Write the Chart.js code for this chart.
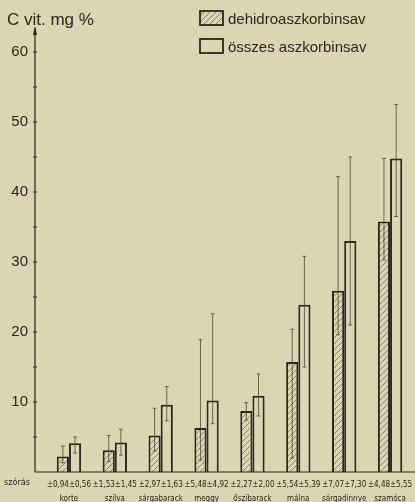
<!DOCTYPE html>
<html lang="hu">
<head>
<meta charset="UTF-8">
<title>C vitamin tartalom</title>
<script src="https://cdn.jsdelivr.net/npm/chart.js"></script>
<style>
  html, body { margin: 0; padding: 0; background: #dcd5b2; }
  canvas { display: block; }
</style>
</head>
<body>
<canvas id="chart" width="415" height="502"></canvas>
<script>
// values (mg %)
const fruits = ['korte', 'szilva', 'sárgabarack', 'meggy', 'őszibarack', 'málna', 'sárgadinnye', 'szamóca'];
const szorasDehidro = ['0,94', '1,53', '2,97', '5,48', '2,27', '5,54', '7,07', '4,48'];
const szorasOsszes = ['0,56', '1,45', '1,63', '4,92', '2,00', '5,39', '7,30', '5,55'];
const dehidro = [2.2, 3.1, 5.2, 6.3, 8.7, 15.7, 25.9, 35.8];
const dehidroHi = [3.7, 5.2, 9.1, 18.9, 9.9, 20.4, 42.2, 44.8];
const dehidroLo = [1.3, 1.5, 3.0, 1.7, 7.4, 2.0, 19.6, 30.3];
const osszes = [4.1, 4.2, 9.6, 10.2, 10.9, 23.9, 33.0, 44.8];
const osszesHi = [5.0, 6.1, 12.2, 22.6, 14.0, 30.8, 45.0, 52.5];
const osszesLo = [2.7, 2.4, 7.3, 6.9, 8.0, 15.0, 21.0, 36.5];

const paper = '#dcd5b2';
const ink = '#2a2620';
const narrow = '"DejaVu Sans Condensed", "Liberation Sans", sans-serif';

const ctx = document.getElementById('chart').getContext('2d');

function makeHatch() {
  const t = document.createElement('canvas');
  t.width = 6; t.height = 6;
  const g = t.getContext('2d');
  g.fillStyle = paper;
  g.fillRect(0, 0, 6, 6);
  g.strokeStyle = '#8a846c';
  g.lineWidth = 1;
  g.beginPath();
  g.moveTo(0, 6); g.lineTo(6, 0);
  g.moveTo(-1, 1); g.lineTo(1, -1);
  g.moveTo(5, 7); g.lineTo(7, 5);
  g.stroke();
  return ctx.createPattern(t, 'repeat');
}
const hatch = makeHatch();

const errors = [
  { lo: dehidroLo, hi: dehidroHi },
  { lo: osszesLo, hi: osszesHi }
];

// axis lines with arrow, like the hand drawn original
const axisPlugin = {
  id: 'axisPlugin',
  afterDatasetsDraw(chart) {
    const c = chart.ctx;
    const y = chart.scales.y;
    const x0 = 35;
    const y0 = y.getPixelForValue(0);
    c.save();
    c.strokeStyle = ink;
    c.lineWidth = 1.2;
    c.beginPath();
    c.moveTo(x0, y0); c.lineTo(x0, 28);
    c.moveTo(x0, y0); c.lineTo(415, y0);
    for (let v = 5; v <= 60; v += 5) {
      const py = y.getPixelForValue(v);
      c.moveTo(x0 - 2, py); c.lineTo(x0 + 2, py);
    }
    c.stroke();
    c.fillStyle = ink;
    c.beginPath();
    c.moveTo(x0, 26); c.lineTo(x0 - 2, 35); c.lineTo(x0 + 2, 35);
    c.closePath(); c.fill();

    // error whiskers
    c.strokeStyle = '#4a463c';
    c.lineWidth = 0.8;
    errors.forEach((e, i) => {
      chart.getDatasetMeta(i).data.forEach((bar, j) => {
        const top = y.getPixelForValue(e.hi[j]);
        const bot = y.getPixelForValue(e.lo[j]);
        const bx = bar.x;
        c.beginPath();
        c.moveTo(bx, top); c.lineTo(bx, bot);
        c.moveTo(bx - 2, top); c.lineTo(bx + 2, top);
        c.moveTo(bx - 2, bot); c.lineTo(bx + 2, bot);
        c.stroke();
      });
    });
    c.restore();
  },
  afterDraw(chart) {
    const c = chart.ctx;
    c.save();
    c.fillStyle = ink;
    c.textBaseline = 'alphabetic';
    c.font = '17px "Liberation Sans", sans-serif';
    c.fillText('C vit. mg %', 7, 25);

    // legend
    c.font = '15px "Liberation Sans", sans-serif';
    chart.data.datasets.forEach((ds, i) => {
      const by = 11 + i * 28;
      c.fillStyle = ds.backgroundColor;
      c.fillRect(200, by, 23, 14);
      c.strokeStyle = ink;
      c.lineWidth = 1.8;
      c.strokeRect(200, by, 23, 14);
      c.fillStyle = ink;
      c.fillText(ds.label, 228, by + 13);
    });

    c.font = '9px ' + narrow;
    c.textBaseline = 'middle';
    c.fillText('szórás', 4, chart.chartArea.bottom + 11);
    c.restore();
  }
};

new Chart(ctx, {
  type: 'bar',
  data: {
    labels: fruits.map((f, i) => ['±' + szorasDehidro[i] + '±' + szorasOsszes[i], f]),
    datasets: [
      {
        label: 'dehidroaszkorbinsav',
        data: dehidro,
        backgroundColor: hatch,
        borderColor: ink,
        borderWidth: 2
      },
      {
        label: 'összes aszkorbinsav',
        data: osszes,
        backgroundColor: paper,
        borderColor: ink,
        borderWidth: 2
      }
    ]
  },
  options: {
    responsive: false,
    animation: false,
    layout: { padding: { top: 31, right: 2, left: 0, bottom: 0 } },
    categoryPercentage: 0.53,
    barPercentage: 1,
    plugins: {
      legend: { display: false },
      tooltip: { enabled: false }
    },
    scales: {
      x: {
        grid: { display: false, drawTicks: false },
        border: { display: false },
        ticks: {
          color: ink,
          padding: 6,
          maxRotation: 0,
          autoSkip: false,
          font: { family: narrow, size: 8, lineHeight: 1.75 }
        },
        afterFit(scale) {
          scale.height = 30;
          scale.paddingLeft = 0;
          scale.paddingRight = 0;
        }
      },
      y: {
        min: 0,
        max: 63,
        grid: { display: false, drawTicks: false },
        border: { display: false },
        ticks: {
          stepSize: 10,
          includeBounds: false,
          color: ink,
          padding: 18,
          font: { family: '"Liberation Sans", sans-serif', size: 15 },
          callback: v => (v > 0 && v % 10 === 0 ? v : '')
        },
        afterFit(scale) { scale.width = 46; }
      }
    }
  },
  plugins: [axisPlugin]
});
</script>
</body>
</html>
